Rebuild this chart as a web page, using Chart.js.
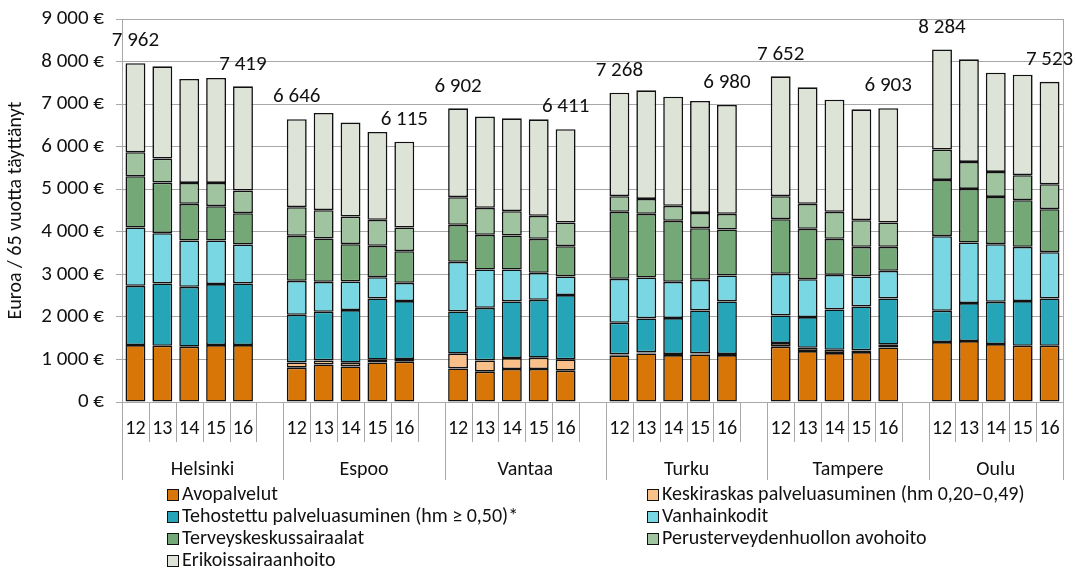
<!DOCTYPE html>
<html>
<head>
<meta charset="utf-8">
<script src="https://cdn.jsdelivr.net/npm/chart.js@4/dist/chart.umd.min.js"></script>
<style>
  html, body { margin: 0; padding: 0; background: #fff; }
  #wrap { position: relative; width: 1075px; height: 569px; }
  #legend { position: absolute; left: 167px; top: 482px; display: grid;
            grid-template-columns: 480px 420px;
            font-family: Carlito, Lato, sans-serif; font-size: 20px; color: #111; }
  #legend div { height: 22px; line-height: 22px; white-space: nowrap; }
  #legend span { display: inline-block; width: 10px; height: 10px; border: 1.5px solid #111;
                 margin-right: 3px; vertical-align: -1px; }
</style>
</head>
<body>
<div id="wrap">
  <canvas id="chart" width="1075" height="569"></canvas>
  <div id="legend"></div>
</div>
<script>
const cities = ['Helsinki', 'Espoo', 'Vantaa', 'Turku', 'Tampere', 'Oulu'];
const years = ['12', '13', '14', '15', '16'];
const yTicks = [0, 1000, 2000, 3000, 4000, 5000, 6000, 7000, 8000, 9000];

// arvot: kaupungit järjestyksessä, vuodet 12-16
const avopalvelut = [
    1338, 1322, 1299, 1338, 1338,
    806, 884, 837, 931, 947,
    790, 712, 775, 775, 736,
    1088, 1142, 1103, 1119, 1103,
    1299, 1197, 1150, 1174, 1283,
    1408, 1432, 1362, 1322, 1322
];
const keskiraskas = [
    0, 0, 0, 0, 0,
    125, 94, 86, 63, 62,
    345, 266, 258, 266, 266,
    31, 24, 24, 23, 24,
    86, 78, 78, 39, 63,
    0, 0, 0, 0, 0
];
const tehostettu = [
    1393, 1464, 1408, 1432, 1448,
    1119, 1143, 1237, 1439, 1362,
    993, 1236, 1330, 1361, 1510,
    743, 798, 845, 1010, 1236,
    649, 720, 947, 1033, 1087,
    736, 892, 993, 1049, 1111
];
const vanhainkodit = [
    1369, 1181, 1088, 1025, 915,
    798, 704, 673, 501, 430,
    1166, 900, 751, 634, 438,
    1033, 962, 853, 720, 610,
    979, 892, 814, 704, 650,
    1753, 1424, 1354, 1275, 1088
];
const terveyskeskus = [
    1205, 1190, 861, 806, 736,
    1057, 1017, 876, 736, 744,
    869, 814, 798, 798, 712,
    1573, 1495, 1432, 1213, 1080,
    1283, 1182, 845, 696, 563,
    1322, 1260, 1111, 1096, 1010
];
const perusterveys = [
    564, 563, 493, 548, 532,
    672, 665, 649, 610, 555,
    649, 634, 572, 540, 556,
    368, 352, 352, 359, 368,
    540, 587, 634, 626, 572,
    712, 634, 587, 587, 586
];
const erikois = [
    2093, 2167, 2441, 2464, 2450,
    2069, 2285, 2207, 2066, 2015,
    2090, 2144, 2183, 2269, 2193,
    2432, 2551, 2566, 2630, 2559,
    2816, 2738, 2637, 2606, 2685,
    2353, 2410, 2332, 2363, 2406
];

const FONT = 'Carlito, Lato, sans-serif';
const gridColor = '#a8a8a8';

// 5 vuotta + tyhjä väli jokaisen kaupungin perään (paitsi viimeisen)
let labels = [];
cities.forEach((c, k) => {
    years.forEach(y => labels.push(y));
    if (k < cities.length - 1) labels.push('');
});

// nollia ei piirretä (muuten näkyy paksu viiva)
function spread(arr) {
    let out = [];
    cities.forEach((c, k) => {
        for (let j = 0; j < years.length; j++) {
            const v = arr[k * years.length + j];
            out.push(v === 0 ? null : v);
        }
        if (k < cities.length - 1) out.push(null);
    });
    return out;
}

function fmt(n) {
    return String(n).replace(/\B(?=(\d{3})+(?!\d))/g, ' ');
}

const series = [
    ['Avopalvelut', avopalvelut, '#d97608'],
    ['Keskiraskas palveluasuminen  (hm 0,20\u20130,49)', keskiraskas, '#f9c08a'],
    ['Tehostettu palveluasuminen  (hm \u2265 0,50)*', tehostettu, '#27a5b8'],
    ['Vanhainkodit', vanhainkodit, '#79d7e4'],
    ['Terveyskeskussairaalat', terveyskeskus, '#75a877'],
    ['Perusterveydenhuollon avohoito', perusterveys, '#a0c4a0'],
    ['Erikoissairaanhoito', erikois, '#dde3d6']
];

// rajaviivan paikka i:n kategorian vasemmalla puolella
function boundary(x, i) {
    const half = (x.getPixelForValue(1) - x.getPixelForValue(0)) / 2;
    return i < labels.length ? x.getPixelForValue(i) - half : x.getPixelForValue(i - 1) + half;
}

const extras = {
    id: 'extras',
    beforeDatasetsDraw(chart) {
        const ctx = chart.ctx, a = chart.chartArea, x = chart.scales.x;
        ctx.save();
        ctx.strokeStyle = gridColor;
        ctx.lineWidth = 1;
        ctx.strokeRect(Math.round(a.left) + 0.5, Math.round(a.top) + 0.5,
            Math.round(a.right - a.left), Math.round(a.bottom - a.top));
        for (let i = 0; i <= labels.length; i++) {
            const isCity = i % 6 === 0 || i === labels.length;
            const xx = Math.round(boundary(x, i)) + 0.5;
            ctx.beginPath();
            ctx.moveTo(xx, a.bottom);
            ctx.lineTo(xx, a.bottom + (isCity ? 78 : 40));
            ctx.stroke();
        }
        ctx.restore();
    },
    afterDraw(chart) {
        const ctx = chart.ctx, a = chart.chartArea, x = chart.scales.x, y = chart.scales.y;
        ctx.save();
        ctx.fillStyle = '#111';
        ctx.font = '20px ' + FONT;
        ctx.textBaseline = 'middle';
        cities.forEach((c, k) => {
            const l = boundary(x, k * 6);
            const r = boundary(x, Math.min(k * 6 + 6, labels.length));
            ctx.textAlign = 'center';
            ctx.fillText(c, (l + r) / 2, a.bottom + 68);
        });
        ctx.font = '21px ' + FONT;
        labels.forEach((lab, i) => {
            if (lab !== years[0] && lab !== years[years.length - 1]) return;
            let sum = 0;
            chart.data.datasets.forEach(ds => sum += ds.data[i] || 0);
            ctx.textAlign = 'center';
            ctx.fillText(fmt(sum), x.getPixelForValue(i), y.getPixelForValue(sum) - 22);
        });
        ctx.restore();
    }
};

const chart = new Chart(document.getElementById('chart').getContext('2d'), {
    type: 'bar',
    data: {
        labels: labels,
        datasets: series.map(s => ({
            label: s[0],
            data: spread(s[1]),
            backgroundColor: s[2],
            borderColor: '#111',
            borderWidth: 1.6,
            borderSkipped: false,
            barPercentage: 0.74,
            categoryPercentage: 1
        }))
    },
    options: {
        responsive: false,
        animation: false,
        layout: { padding: { top: 19, right: 12, left: 0, bottom: 0 } },
        plugins: { legend: { display: false }, tooltip: { enabled: false } },
        scales: {
            x: {
                stacked: true,
                afterFit: s => { s.height = 167; },
                grid: { display: false },
                border: { display: true, color: gridColor },
                ticks: { color: '#111', font: { family: FONT, size: 20 }, padding: 7, maxRotation: 0, autoSkip: false }
            },
            y: {
                stacked: true,
                min: 0,
                max: 9000,
                afterFit: s => { s.width = 122; s.paddingTop = 0; s.paddingBottom = 0; },
                afterBuildTicks: s => { s.ticks = yTicks.map(v => ({ value: v })); },
                grid: { color: gridColor, tickLength: 6 },
                border: { display: true, color: gridColor },
                ticks: { color: '#111', font: { family: FONT, size: 21 }, padding: 12, callback: v => fmt(v) + ' \u20ac' },
                title: { display: true, text: 'Euroa / 65 vuotta täyttänyt', color: '#111', font: { family: FONT, size: 20 }, padding: { top: 4, bottom: 0 } }
            }
        }
    },
    plugins: [extras]
});

let html = '';
chart.data.datasets.forEach(ds => {
    html += '<div><span style="background:' + ds.backgroundColor + '"></span>' + ds.label + '</div>';
});
document.getElementById('legend').innerHTML = html;
</script>
</body>
</html>
